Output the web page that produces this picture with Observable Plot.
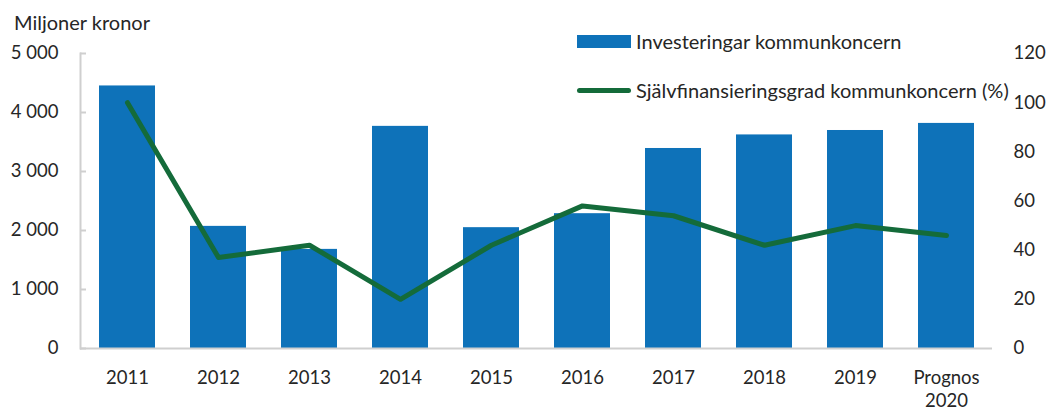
<!DOCTYPE html>
<html>
<head>
<meta charset="utf-8">
<script src="https://cdn.jsdelivr.net/npm/d3@7"></script>
<script src="https://cdn.jsdelivr.net/npm/@observablehq/plot@0.6"></script>
<style>
  html, body { margin: 0; padding: 0; background: #fff; }
  #wrap { position: relative; width: 1046px; height: 410px; font-family: Lato, "Noto Sans", sans-serif; color: #262626; overflow: hidden; }
  #ytitle { position: absolute; left: 14px; top: 8px; font-size: 20px; line-height: 28px; }
  #legend { position: absolute; left: 577px; top: 27px; font-size: 20px; }
  .li { display: flex; align-items: center; height: 28px; margin-bottom: 21px; white-space: nowrap; }
  .sw { width: 54px; margin-right: 5px; flex: none; }
  #chart { position: absolute; left: 0; top: 0; }
</style>
</head>
<body>
<div id="wrap">
  <div id="chart"></div>
  <div id="ytitle">Miljoner kronor</div>
  <div id="legend"></div>
</div>
<script>
const years = ["2011", "2012", "2013", "2014", "2015", "2016", "2017", "2018", "2019", "Prognos\n2020"];
const investments = [4450, 2070, 1680, 3765, 2048, 2285, 3390, 3620, 3695, 3815];
const selfFinancing = [100, 37, 42, 20, 42, 58, 54, 42, 50, 46];
const leftTicks = [0, 1000, 2000, 3000, 4000, 5000];
const rightTicks = [0, 20, 40, 60, 80, 100, 120];
const seriesNames = ["Investeringar kommunkoncern", "Självfinansieringsgrad kommunkoncern (%)"];
const colors = ["#0e72b9", "#146b3a"];

const k = 5000 / 120;
const data = years.map((y, i) => ({ year: y, inv: investments[i], pct: selfFinancing[i] }));
const fmt = d => d3.format(",")(d).replace(/,/g, " ");

const plot = Plot.plot({
  width: 1046,
  height: 410,
  marginLeft: 80,
  marginRight: 54,
  marginTop: 53,
  marginBottom: 62,
  style: { fontFamily: "Lato, 'Noto Sans', sans-serif", fontSize: "18.5px", color: "#262626", background: "transparent", overflow: "visible" },
  x: { domain: years, paddingInner: 0.39, paddingOuter: 0.195, label: null },
  y: { domain: [0, 5000], label: null },
  marks: [
    Plot.barY(data, { x: "year", y: "inv", fill: colors[0] }),
    Plot.ruleY([0], { stroke: "#cfcfcf", strokeWidth: 2 }),
    Plot.frame({ anchor: "left", stroke: "#cfcfcf", strokeWidth: 2 }),
    Plot.axisY(leftTicks, { anchor: "left", tickSize: -6, stroke: "#cfcfcf", strokeWidth: 2, text: null, label: null }),
    Plot.axisY(leftTicks, { anchor: "left", tickSize: 0, tickPadding: 22, tickFormat: fmt, label: null, fill: "#262626" }),
    Plot.axisY(rightTicks.map(v => v * k), { anchor: "right", tickSize: 0, tickPadding: 21, tickFormat: v => Math.round(v / k), label: null, fill: "#262626", textAnchor: "start" }),
    Plot.axisX({ tickSize: 0, tickPadding: 19, label: null, lineHeight: 1.25, fill: "#262626" }),
    Plot.line(data, { x: "year", y: d => d.pct * k, stroke: colors[1], strokeWidth: 5, strokeLinecap: "round", strokeLinejoin: "round" })
  ]
});
document.getElementById("chart").appendChild(plot);

const legend = document.getElementById("legend");
seriesNames.forEach((name, i) => {
  const row = document.createElement("div");
  row.className = "li";
  const sw = document.createElement("div");
  sw.className = "sw";
  if (i === 0) { sw.style.height = "13px"; sw.style.background = colors[0]; }
  else { sw.style.height = "5px"; sw.style.background = colors[1]; sw.style.borderRadius = "3px"; }
  const t = document.createElement("span");
  t.textContent = name;
  row.appendChild(sw); row.appendChild(t);
  legend.appendChild(row);
});
</script>
</body>
</html>
